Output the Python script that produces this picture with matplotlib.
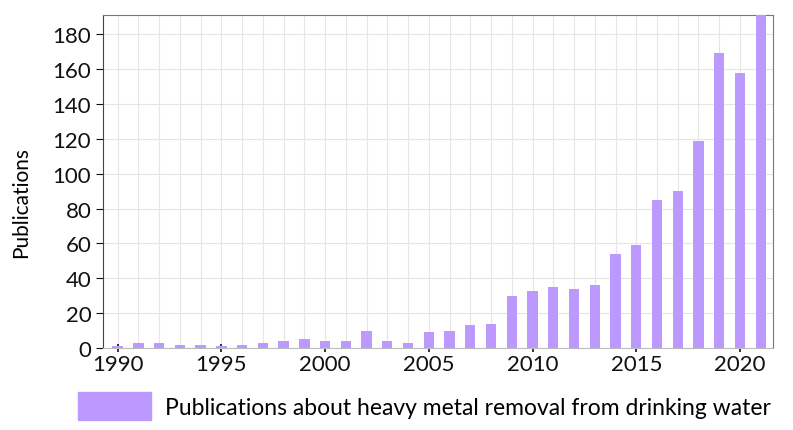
import matplotlib.pyplot as plt
from matplotlib.patches import Patch

years = list(range(1990, 2022))
publications = [1, 3, 3, 2, 2, 1, 2, 3, 4, 5, 4, 4, 10, 4, 3, 9,
                10, 13, 14, 30, 33, 35, 34, 36, 54, 59, 85, 90, 119, 169, 158, 192]
legend_label = 'Publications about heavy metal removal from drinking water'
bar_color = '#bb99ff'

plt.rcParams['font.family'] = ['Lato', 'DejaVu Sans']

fig = plt.figure(figsize=(7.93, 4.31), dpi=100)
ax = fig.add_axes([0.130, 0.19, 0.845, 0.773])

ax.bar(years, publications, width=0.5, color=bar_color, zorder=3)

ax.set_xlim(1989.3, 2021.6)
ax.set_ylim(0, 191)
ax.set_yticks(range(0, 181, 20))
ax.set_xticks(range(1990, 2021, 5))
ax.set_xticks(years, minor=True)
ax.grid(True, which='both', color='#e6e6e6', linewidth=0.8, zorder=0)
ax.tick_params(axis='both', labelsize=16, colors='#111111')
ax.tick_params(axis='x', which='major', length=6, width=1.2, direction='inout', pad=1)
ax.tick_params(axis='x', which='minor', length=0)
ax.tick_params(axis='y', length=5)
ax.set_ylabel('Publications', fontsize=15)
ax.yaxis.set_label_coords(-0.108, 0.44)

for side in ['top', 'right']:
    ax.spines[side].set_color('#777777')
ax.spines['bottom'].set_color('#bbbbbb')
ax.spines['left'].set_color('#444444')

fig.legend(handles=[Patch(color=bar_color, label=legend_label)],
           loc='lower left', bbox_to_anchor=(0.072, -0.025), frameon=False,
           fontsize=16.5, handlelength=3.2, handleheight=1.5, handletextpad=0.6)

fig.savefig('out.png', dpi=100)
